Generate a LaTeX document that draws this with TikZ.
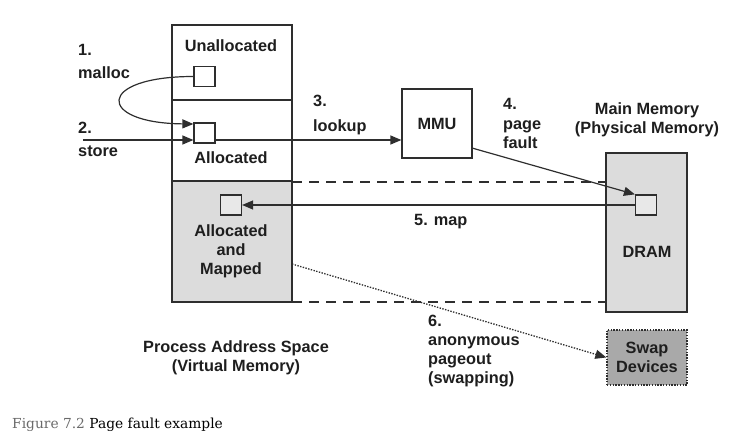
\documentclass[tikz,border=0pt]{standalone}
\usepackage{fontspec}
\setmainfont{Liberation Sans}
\newfontfamily\capfont{DejaVu Serif}
\usetikzlibrary{arrows.meta,calc}
\definecolor{lgray}{HTML}{DCDCDC}
\definecolor{sqgray}{HTML}{E8E8E8}
\definecolor{dgray}{HTML}{A9A9A9}
\definecolor{capgray}{HTML}{6A6A6A}
\definecolor{ln}{HTML}{2E2E2E}
\definecolor{tx}{HTML}{1E1E1E}
\tikzset{
  lbl/.style={font=\fontsize{16.3}{19}\selectfont\bfseries, text=tx, inner sep=0pt},
  pg/.style={draw=ln, line width=1.2pt, minimum width=21pt, minimum height=20pt, inner sep=0pt},
  conn/.style={draw=ln, line width=1.2pt},
  tip/.style={-{Triangle[length=11pt,width=9pt]}},
  dsh/.style={draw=ln, line width=1.2pt, dash pattern=on 10pt off 7pt},
  dts/.style={draw=ln, line width=1.3pt, dash pattern=on 1.4pt off 1.4pt},
}
\begin{document}
\begin{tikzpicture}[x=1pt,y=-1pt]
\useasboundingbox (0,0) rectangle (737,433);
% process address space column
\fill[lgray] (172,181) rectangle (292,302);
\draw[conn] (172,25) rectangle (292,302);
\draw[conn] (172,100) -- (292,100);
\draw[conn] (172,181) -- (292,181);
% labels in column
\node[lbl] (tUnalloc) at (231,46) {Unallocated};
\node[lbl] (tAlloc) at (231,158) {Allocated};
\node[lbl, align=center] (tMapped) at (231,251) {Allocated\\and\\Mapped};
% page squares
\node[pg, fill=white] (usq) at (204.5,76.5) {};
\node[pg, fill=white] (asq) at (204.5,133) {};
\node[pg, fill=sqgray] (msq) at (231,205) {};
% MMU
\node[draw=ln, line width=1.2pt, minimum width=70pt, minimum height=69pt, inner sep=0pt, lbl] (mmu) at (437,123.5) {MMU};
% DRAM
\node[draw=ln, line width=1.2pt, fill=lgray, minimum width=81pt, minimum height=159pt, inner sep=0pt] (dram) at (646.5,232.5) {};
\node[lbl] (tDram) at (647,252) {DRAM};
\node[pg, fill=sqgray] (dsq) at (646,205) {};
% swap
\node[dts, fill=dgray, minimum width=80pt, minimum height=55pt, inner sep=0pt, lbl, align=center] (swap) at (647,357.5) {Swap\\Devices};
% headings
\node[lbl, align=center] (tMain) at (647,119.5) {Main Memory\\(Physical Memory)};
\node[lbl, align=center] (tPAS) at (236,357.5) {Process Address Space\\(Virtual Memory)};
% step labels
\node[lbl, anchor=west, align=left] (s1) at (78,61.5) {1.\\[4pt]malloc};
\node[lbl, anchor=west, align=left] (s2) at (78,139.5) {2.\\[4pt]store};
\node[lbl, anchor=west, align=left] (s3) at (313,115.5) {3.\\[6pt]lookup};
\node[lbl, anchor=west, align=left] (s4) at (503,123) {4.\\[1pt]page\\fault};
\node[lbl, anchor=west] (s5) at (414,222) {5. map};
\node[lbl, anchor=west, align=left] (s6) at (428,351) {6.\\anonymous\\pageout\\(swapping)};
% connectors
\coordinate (storeStart) at (83,140);
\coordinate (mapOut) at (292,264);
\coordinate (pfOut) at (472,148);
\coordinate (dashA) at (292,182);
\coordinate (dashB) at (292,302);
\draw[conn, tip] (usq.west) .. controls (96,76.5) and (96,123) .. (asq.west |- 0,124);
\draw[conn, tip] (storeStart) -- (storeStart -| asq.west);
\draw[conn, tip] (storeStart -| asq.east) -- (storeStart -| mmu.west);
\draw[conn, tip] (pfOut) -- (dsq.north west);
\draw[conn, tip] (dsq.west) -- (msq.east);
\draw[dts, tip] (mapOut) -- (swap.west);
\draw[dsh] (dashA) -- (dashA -| dram.west);
\draw[dsh] (dashB) -- (dashB -| dram.west);
% caption
\node[anchor=base west, inner sep=0pt, font=\capfont\fontsize{13.8}{16}\selectfont] (cap) at (12,428) {\textcolor{capgray}{Figure 7.2} Page fault example};
\end{tikzpicture}
\end{document}
